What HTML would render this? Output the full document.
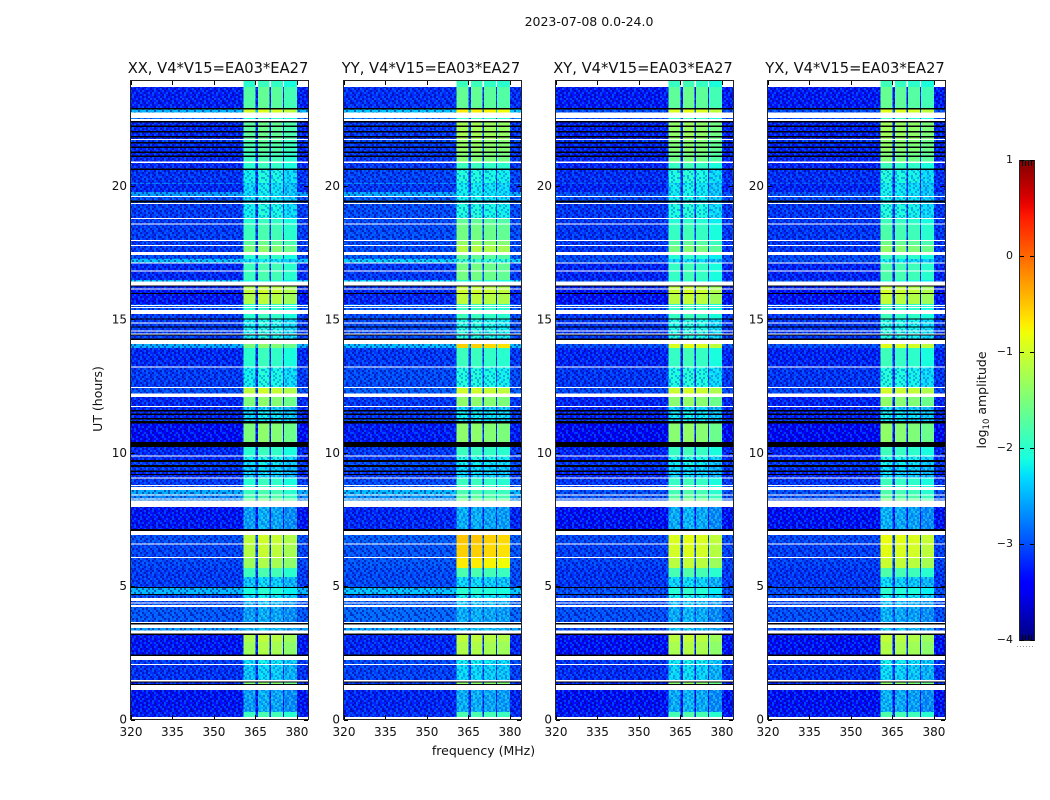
<!DOCTYPE html>
<html lang="en">
<head>
<meta charset="utf-8">
<title>2023-07-08 0.0-24.0</title>
<style>
html,body{margin:0;padding:0;background:#fff;width:1050px;height:800px;overflow:hidden}
svg{display:block}
text{font-family:"DejaVu Sans","Liberation Sans",sans-serif;fill:#111}
</style>
</head>
<body>
<svg id="chart" xmlns="http://www.w3.org/2000/svg" width="1050" height="800" viewBox="0 0 1050 800" shape-rendering="crispEdges">
  <defs>
    <pattern id="grain" patternUnits="userSpaceOnUse" width="32" height="32">
      <path id="grain-dark" fill="#000080" fill-opacity=".5" d=""/>
      <path id="grain-light" fill="#0098ff" fill-opacity=".38" d=""/>
    </pattern>
    <pattern id="grain-soft" patternUnits="userSpaceOnUse" width="32" height="32" x="7" y="5">
      <path id="grain-soft-dark" fill="#0040d0" fill-opacity=".4" d=""/>
      <path id="grain-soft-light" fill="#60ffb0" fill-opacity=".3" d=""/>
    </pattern>
    <linearGradient id="jet-gradient" x1="0" y1="1" x2="0" y2="0"></linearGradient>
  </defs>
  <text x="589" y="26" font-size="12.5" text-anchor="middle">2023-07-08 0.0-24.0</text>
  <text x="483.5" y="755" font-size="12.5" text-anchor="middle">frequency (MHz)</text>
  <text x="0" y="0" font-size="12.5" text-anchor="middle" transform="translate(102 399) rotate(-90)">UT (hours)</text>
  <g id="panels"></g>
  <g id="colorbar"></g>
  <text x="0" y="0" font-size="12.5" text-anchor="middle" transform="translate(986 400) rotate(-90)">log<tspan font-size="8.5" dy="3">10</tspan><tspan dy="-3"> amplitude</tspan></text>
</svg>
<script>
const F = null;  // flagged time range (white)
const D = -5;    // dead time range (below colour scale, black)

const panelTitles = ["XX, V4*V15=EA03*EA27", "YY, V4*V15=EA03*EA27", "XY, V4*V15=EA03*EA27", "YX, V4*V15=EA03*EA27"];
const freqTicks = [320, 335, 350, 365, 380];
const utTicks = [0, 5, 10, 15, 20];
const colorTicks = [1, 0, -1, -2, -3, -4];

// Upper UT edge of each time band (hours)
const bandTopUT = [
0.09,0.28,1.11,1.29,1.33,1.39,1.43,1.48,2.04,2.08,
2.23,2.38,2.44,2.91,3.17,3.23,3.34,3.43,3.56,3.62,
3.66,4.22,4.29,4.35,4.39,4.44,4.56,4.67,4.71,4.93,
4.97,5.34,5.69,6.06,6.09,6.56,6.6,6.92,7.07,7.14,
7.97,8.21,8.25,8.29,8.4,8.44,8.61,8.72,8.76,8.79,
9.04,9.08,9.17,9.21,9.28,9.34,9.47,9.54,9.66,9.73,
9.86,9.9,10.22,10.41,11.1,11.19,11.25,11.31,11.42,11.48,
11.55,11.61,11.72,11.76,12.09,12.23,12.43,12.47,13.2,13.24,
13.93,14.08,14.23,14.29,14.4,14.44,14.48,14.55,14.59,14.7,
14.74,14.85,14.89,15,15.04,15.21,15.36,15.43,15.47,15.51,
15.54,15.58,15.96,15.99,16.13,16.16,16.24,16.28,16.43,16.48,
16.8,16.84,17.1,17.14,17.27,17.42,17.53,17.76,17.8,17.95,
17.98,18.56,18.6,18.77,18.81,19.33,19.37,19.39,19.46,19.59,
19.63,19.78,20.08,20.12,20.61,20.66,20.87,20.92,21.09,21.15,
21.24,21.3,21.43,21.49,21.6,21.66,21.73,21.77,21.83,21.88,
22.01,22.07,22.22,22.28,22.39,22.44,22.52,22.56,22.76,22.88,
22.93,23.72,23.94];

// log10 amplitude of the quiet band, per time band
const bandBackground = [
F,-3.25,-3.3,F,D,-3.2,D,F,-3.15,F,
-3.1,F,D,-3.3,-3.3,D,F,-2.6,F,D,
F,-2.95,F,-3,F,-3,F,-3,D,-2.45,
D,-3.1,-3.1,-3.05,F,-3.05,F,-3,F,D,
-3.3,F,-2.7,F,-2.7,F,-2.5,F,-3,F,
-3.1,F,-3.2,D,-3.2,D,-3.1,D,-3.1,D,
-3.2,F,-3.2,D,-3.35,D,-3.1,D,-3.2,D,
-3.2,D,-3.2,F,-3.2,F,-3,F,-3.1,F,
-3.2,-2.5,F,D,-3.1,D,F,-3.1,F,-3.1,
D,-3.1,F,-3.1,D,-3.1,F,-3,F,-3,
F,-3,-3.3,D,-3.3,F,-3.2,D,F,-2.4,
-3.2,F,-3.2,F,-2.4,-3,F,-3.1,F,-3.1,
F,-3.1,F,-3.1,F,-3.1,F,-3,D,-3,
F,-2.6,-3.2,-2.8,-3.15,D,-3.2,F,-3.2,D,
-3.2,D,-3.2,D,-3.2,D,-3.1,F,-3.2,D,
-3.2,D,-3.2,D,-3.2,D,F,-2.8,F,-2.45,
D,-3.25,F];

// log10 amplitude inside the occupied sub-bands, per time band
const bandInterference = [
F,-1.9,-2.6,F,D,-1.5,D,F,-2.4,F,
-2.3,F,D,-1.3,-1.2,D,F,-2.5,F,D,
F,-2.6,F,-2.5,F,-2.5,F,-2.3,D,-2.1,
D,-2.4,-1.9,-1.3,F,-1.15,F,-1.1,F,D,
-2.6,F,-1.6,F,-1.8,F,-1.9,F,-2,F,
-2,F,-2.4,D,-2.4,D,-2.4,D,-2.3,D,
-2.2,F,-2,D,-1.5,D,-2.3,D,-2.3,D,
-2.3,D,-2.4,F,-1.5,F,-1.1,F,-2.2,F,
-2,-1.2,F,D,-2.2,D,F,-2.2,F,-2.2,
D,-2.2,F,-2.2,D,-2,F,-2,F,-2,
F,-2,-1.2,D,-1.1,F,-1.2,D,F,-2.1,
-1.9,F,-1.9,F,-2.3,-2,F,-1.5,F,-1.7,
F,-1.9,F,-2,F,-2.2,F,-2.3,D,-2.3,
F,-2.3,-2.3,-2.4,-2.2,D,-2,F,-1.9,D,
-1.9,D,-1.8,D,-1.8,D,-1.8,F,-1.7,D,
-1.7,D,-1.7,D,-1.7,D,F,-2,F,-1,
D,-1.75,-2];

// Occupied sub-band edges (MHz)
const subbandLow = [360.6, 365.9, 370.7, 375.4];
const subbandHigh = [365, 370, 375, 380];
const freqLimits = [320, 384];

// Per-polarisation adjustments (XX, YY, XY, YX)
const polBackgroundShift = [0, 0.08, -0.03, -0.03];
const polBackgroundCap = [-2.3, -2.3, -3, -3];
const polInterferenceShift = [0, 0.05, 0.02, 0.02];
const subbandShiftXX = [0, 0.1, 0.05, -0.1];
const subbandShiftYY = [0.05, 0.05, 0, -0.05];
const subbandShiftXY = [0.05, 0.12, 0.05, -0.12];
const subbandShiftYX = [0.1, 0.05, 0, -0.12];

// UT windows with extra polarisation-dependent brightening
const boostStart = [5.69, 13.93, 16.5, 20.9, 22.76];
const boostEnd = [6.92, 14.08, 18.8, 22.5, 22.88];
const boostXX = [0, -0.3, 0, 0, 0];
const boostYY = [0.5, 0.55, 0.25, 0.35, 0.2];
const boostXY = [0.1, 0.2, -0.1, 0.25, 0];
const boostYX = [0.15, 0.2, 0, 0.3, 0];

// Hand-placed speckle tile: '#' darker cell, '+' lighter cell
const grainTile = [
"#.+#..+#.#+..#.+",
"+#..+#..+.#+.+#.",
".+#.#.+#..+#..+#",
"#..+.#+.#+..#+.#",
".#+..+#..#.+#..+",
"+.#.#+.+#.+..#+.",
"#+.+#..#.+#.#.+#",
".#.+.#+..#.+.#+.",
"+..#.+#.+.#+#..+",
"#+#..#.+#+..+.#.",
".+.#+.#..+#.#+.#",
"#.+..#+.#.+#..+.",
"+#.#+..#.+.#.+#.",
".+#..+#+.#..#+.#",
"#..+#.+.#.+#+..+",
".#+.#.#.+#..+#.."
];

const panelLeft = [131, 344, 556, 768];
const panelWidth = 177;
const NS = "http://www.w3.org/2000/svg";
const panelsRoot = document.getElementById("panels");
const colorbarRoot = document.getElementById("colorbar");

function yOfUT(h){ return 719.5 - h * 26.667; }
function xOfFreq(panel, f){ return panelLeft[panel] + (f - freqLimits[0]) / (freqLimits[1] - freqLimits[0]) * panelWidth; }
function yOfColor(v){ return 640 - (v + 4) * 96; }

function tilePath(symbol){
  let d = "";
  grainTile.forEach(function(row, r){
    for (let c = 0; c < row.length; c++) {
      if (row[c] === symbol) d += "M" + (c * 2) + " " + (r * 2) + "h2v2h-2z";
    }
  });
  return d;
}
document.getElementById("grain-dark").setAttribute("d", tilePath("#"));
document.getElementById("grain-light").setAttribute("d", tilePath("+"));
document.getElementById("grain-soft-dark").setAttribute("d", tilePath("#"));
document.getElementById("grain-soft-light").setAttribute("d", tilePath("+"));

function interp(t, xs, ys){
  if (t <= xs[0]) return ys[0];
  for (let i = 1; i < xs.length; i++) {
    if (t <= xs[i]) return ys[i-1] + (ys[i] - ys[i-1]) * (t - xs[i-1]) / (xs[i] - xs[i-1]);
  }
  return ys[ys.length - 1];
}
function jet(t){
  const r = interp(t, [0.35, 0.66, 0.89, 1], [0, 1, 1, 0.5]);
  const g = interp(t, [0.125, 0.375, 0.64, 0.91], [0, 1, 1, 0]);
  const b = interp(t, [0, 0.11, 0.34, 0.65], [0.5, 1, 1, 0]);
  return "rgb(" + Math.round(r*255) + "," + Math.round(g*255) + "," + Math.round(b*255) + ")";
}
function colorOf(v){
  if (v === null) return "#ffffff";
  if (v <= -4) return "#000000";
  return jet((v + 4) / 5);
}
function boostFor(panel, mid){
  const table = [boostXX, boostYY, boostXY, boostYX][panel];
  let total = 0;
  for (let i = 0; i < boostStart.length; i++) {
    if (mid >= boostStart[i] && mid <= boostEnd[i]) total += table[i];
  }
  return total;
}
function addRect(parent, x, y, w, h, fill){
  const r = document.createElementNS(NS, "rect");
  r.setAttribute("x", x.toFixed(2));
  r.setAttribute("y", y.toFixed(2));
  r.setAttribute("width", w.toFixed(2));
  r.setAttribute("height", h.toFixed(2));
  r.setAttribute("fill", fill);
  parent.appendChild(r);
  return r;
}
function addLine(parent, x1, y1, x2, y2, stroke, width){
  const l = document.createElementNS(NS, "line");
  l.setAttribute("x1", x1);
  l.setAttribute("y1", y1);
  l.setAttribute("x2", x2);
  l.setAttribute("y2", y2);
  l.setAttribute("stroke", stroke);
  l.setAttribute("stroke-width", width);
  parent.appendChild(l);
  return l;
}
function addText(parent, x, y, str, anchor, size){
  const t = document.createElementNS(NS, "text");
  t.setAttribute("x", x);
  t.setAttribute("y", y);
  t.setAttribute("text-anchor", anchor);
  t.setAttribute("font-size", size);
  t.textContent = str;
  parent.appendChild(t);
  return t;
}

const subbandShiftTable = [subbandShiftXX, subbandShiftYY, subbandShiftXY, subbandShiftYX];

panelTitles.forEach(function(title, p){
  const g = document.createElementNS(NS, "g");
  
  
  panelsRoot.appendChild(g);

  const cells = document.createElementNS(NS, "g");
  
  
  g.appendChild(cells);

  addRect(cells, panelLeft[p], 81, panelWidth, 638.5, "#ffffff");

  let lower = 0;
  bandTopUT.forEach(function(top, i){
    const yTop = yOfUT(top);
    const hgt = yOfUT(lower) - yTop;
    const mid = (top + lower) / 2;
    const rawBg = bandBackground[i];
    const rawRfi = bandInterference[i];
    lower = top;

    if (rawBg === D) {
      const dead = addRect(cells, panelLeft[p], yTop, panelWidth, hgt, "#000000");
      
      
      return;
    }
    if (rawRfi === null) {
      return;
    }
    const boost = boostFor(p, mid);
    const rfi = rawRfi + polInterferenceShift[p] + boost;
    let bg = null;
    if (rawBg !== null) {
      bg = Math.min(rawBg + polBackgroundShift[p], polBackgroundCap[p]);
    }
    if (bg !== null) {
      const bgCell = addRect(cells, panelLeft[p], yTop, panelWidth, hgt, colorOf(bg));
      
      
      const speck = addRect(cells, panelLeft[p], yTop, panelWidth, hgt, "url(#grain)");
      
      
    }
    subbandLow.forEach(function(lo, s){
      const hi = subbandHigh[s];
      const cell = addRect(cells, xOfFreq(p, lo), yTop, xOfFreq(p, hi) - xOfFreq(p, lo), hgt, colorOf(rfi + subbandShiftTable[p][s]));
      
      
      if (rawRfi < -2.1 && bg !== null) {
        const soft = addRect(cells, xOfFreq(p, lo), yTop, xOfFreq(p, hi) - xOfFreq(p, lo), hgt, "url(#grain-soft)");
        
        
      }
    });
  });

  const frame = addRect(g, panelLeft[p] - 0.5, 80.5, panelWidth + 1, 639, "none");
  frame.setAttribute("stroke", "#222");
  frame.setAttribute("stroke-width", "1.4");
  
  

  const heading = addText(g, panelLeft[p] + panelWidth / 2 - 1.5, 73, title, "middle", 14.7);
  
  

  freqTicks.forEach(function(f){
    const x = Math.round(xOfFreq(p, f)) + 0.5;
    const tickBottom = addLine(g, x, 719, x, 715, "#000", 1);
    
    
    const tickTop = addLine(g, x, 81, x, 85, "#000", 1);
    
    
    const label = addText(g, xOfFreq(p, f), 736, String(f), "middle", 12);
    
    
  });

  utTicks.forEach(function(h){
    const y = Math.round(yOfUT(h)) + 0.5;
    const tickLeft = addLine(g, panelLeft[p], y, panelLeft[p] + 4, y, "#000", 1);
    
    
    const tickRight = addLine(g, panelLeft[p] + panelWidth, y, panelLeft[p] + panelWidth - 4, y, "#000", 1);
    
    
    const label = addText(g, panelLeft[p] - 4, yOfUT(h) + 4, String(h), "end", 12);
    
    
  });
});

// Colorbar
const gradient = document.getElementById("jet-gradient");
for (let i = 0; i <= 50; i++) {
  const stop = document.createElementNS(NS, "stop");
  stop.setAttribute("offset", (i / 50).toFixed(2));
  stop.setAttribute("stop-color", jet(i / 50));
  gradient.appendChild(stop);
}
const bar = addRect(colorbarRoot, 1019.5, 160.5, 15, 480, "url(#jet-gradient)");
bar.setAttribute("stroke", "#222");
bar.setAttribute("stroke-width", "1.4");



colorTicks.forEach(function(v){
  const y = Math.round(yOfColor(v)) + 0.5;
  const left = addLine(colorbarRoot, 1020, y, 1024, y, "#000", 1);
  
  
  const right = addLine(colorbarRoot, 1034, y, 1030, y, "#000", 1);
  
  
  const label = addText(colorbarRoot, 1013, yOfColor(v) + 3, v < 0 ? "\u2212" + Math.abs(v) : String(v), "end", 11);
  
  
});

[1022, 1025, 1028, 1031].forEach(function(x){
  const topMark = addLine(colorbarRoot, x + 0.5, 161, x + 0.5, 166, "#000", 1);
  
  
  const bottomMark = addLine(colorbarRoot, x + 0.5, 640, x + 0.5, 635, "#000", 1);
  
  
});
[1017, 1020, 1023, 1026, 1029, 1032].forEach(function(x){
  const dot = addRect(colorbarRoot, x, 646, 1, 1, "#999");
  
  
});
</script>
</body>
</html>
